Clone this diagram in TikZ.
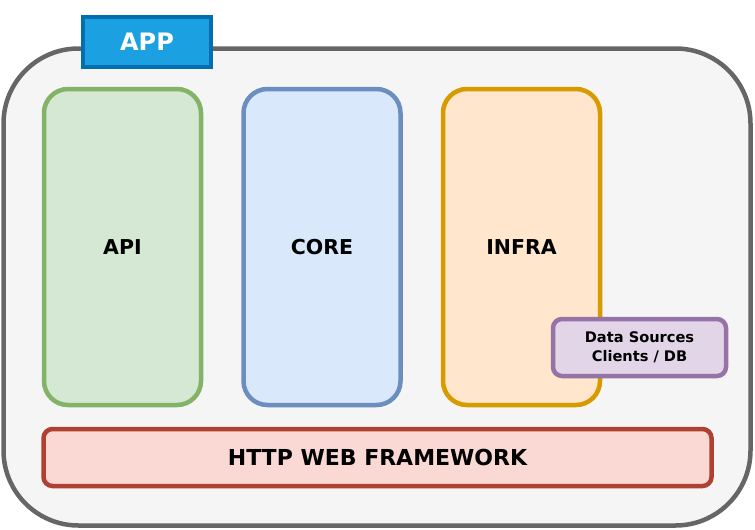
\documentclass[tikz,border=0pt]{standalone}
\usepackage{fontspec}
\setmainfont{DejaVu Sans}
\usepackage{xcolor}
\usepackage{tikz}
\usetikzlibrary{positioning}

\definecolor{appfill}{HTML}{1BA1E2}
\definecolor{appline}{HTML}{006EAF}
\definecolor{outfill}{HTML}{F5F5F5}
\definecolor{outline}{HTML}{666666}
\definecolor{apifill}{HTML}{D5E8D4}
\definecolor{apiline}{HTML}{82B366}
\definecolor{corefill}{HTML}{DAE8FC}
\definecolor{coreline}{HTML}{6C8EBF}
\definecolor{infrafill}{HTML}{FFE6CC}
\definecolor{infraline}{HTML}{D79B00}
\definecolor{dsfill}{HTML}{E1D5E7}
\definecolor{dsline}{HTML}{9673A6}
\definecolor{httpfill}{HTML}{FAD9D5}
\definecolor{httpline}{HTML}{AE4132}

\begin{document}
\begin{tikzpicture}[x=1pt,y=-1pt,line width=4.5pt]
	\tikzstyle{layer}=[draw, rounded corners=24pt, minimum width=157pt, minimum height=316pt, inner sep=0pt, font=\bfseries\fontsize{20.5}{24}\selectfont]
	\tikzstyle{bar}=[draw, rounded corners=9pt, inner sep=0pt]
	\useasboundingbox (0,0) rectangle (755,530);
	% container
	\node[draw=outline, fill=outfill, rounded corners=75pt, minimum width=747pt, minimum height=477pt, inner sep=0pt] (app) at (377,287) {};
	\node[draw=appline, fill=appfill, text=white, minimum width=128pt, minimum height=50pt, inner sep=0pt, font=\bfseries\fontsize{24}{28}\selectfont] (tab) at (147,42) {APP};
	% layers
	\node[layer, draw=apiline, fill=apifill] (api) at (122.5,247) {API};
	\node[layer, draw=coreline, fill=corefill, right=38pt of api] (core) {CORE};
	\node[layer, draw=infraline, fill=infrafill, right=38pt of core] (infra) {INFRA};
	\node[bar, draw=dsline, fill=dsfill, minimum width=173pt, minimum height=57pt, align=center, font=\bfseries\fontsize{14.6}{18.5}\selectfont] (ds) at (639.5,347.5) {Data Sources\\Clients / DB};
	\node[bar, draw=httpline, fill=httpfill, minimum width=668pt, minimum height=57pt, font=\bfseries\fontsize{22}{26}\selectfont] (http) at (377.5,457.5) {HTTP WEB FRAMEWORK};
\end{tikzpicture}
\end{document}
